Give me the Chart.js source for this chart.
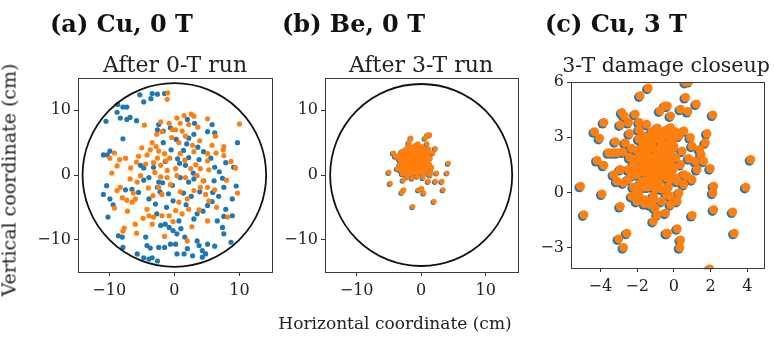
<!DOCTYPE html>
<html><head><meta charset="utf-8">
<script src="https://cdn.jsdelivr.net/npm/chart.js@4.4.0/dist/chart.umd.min.js"></script>
<style>
body{margin:0;width:774px;height:337px;overflow:hidden;background:#fff;font-family:"DejaVu Serif",serif;}
canvas{position:absolute;left:0;top:0;}
.t{position:absolute;white-space:nowrap;color:#111;line-height:1;}
.h{font-weight:bold;font-size:24px;top:12px;}
.s{font-size:22px;top:54px;transform:translateX(-50%);color:#222;}
.ax{font-size:17px;color:#222;}
</style></head><body>
<canvas id="ca" width="774" height="337"></canvas>
<canvas id="cb" width="774" height="337"></canvas>
<canvas id="cc" width="774" height="337"></canvas>
<div class="t h" style="left:50px">(a) Cu, 0 T</div>
<div class="t h" style="left:282px">(b) Be, 0 T</div>
<div class="t h" style="left:545px">(c) Cu, 3 T</div>
<div class="t s" style="left:175px">After 0-T run</div>
<div class="t s" style="left:421px">After 3-T run</div>
<div class="t s" style="left:666px;font-size:20.5px;top:55px">3-T damage closeup</div>
<div class="t ax" style="left:395px;top:315px;transform:translateX(-50%)">Horizontal coordinate (cm)</div>
<div class="t ax" style="left:9px;top:180px;font-size:19px;transform:translate(-50%,-50%) rotate(-90deg)">Vertical coordinate (cm)</div>
<script>
// ---------------- DATA ----------------
const titles = ["(a) Cu, 0 T", "(b) Be, 0 T", "(c) Cu, 3 T"];
const detectorRadius = 14.1;
const ticksWide = [-10, 0, 10];
const ticksCloseX = [-4, -2, 0, 2, 4];
const ticksCloseY = [-3, 0, 3, 6];

// Panel (a): damage spots after 0-T run, two series
const cu0Blue = [
[-5.3,12.4],[-4.7,11.3],[-3.6,11.8],[-3.4,12.6],[-2.6,12.5],[-1.5,12.6],[-8.7,10.9],[-7.9,10.5],[-7.3,10.5],[-8.8,9.7],
[-8.3,8.8],[-7.3,8.6],[-6.8,8.9],[-5.8,8.4],[-10.5,8.3],[-7.9,5.6],[-2.4,7.8],[-2.6,7.0],[-1.7,6.8],[-0.6,7.3],
[-10.9,3.1],[-10.3,3.1],[-9.9,3.7],[-5.2,1.5],[-4.7,1.1],[-3.2,1.2],[-1.7,5.0],[-1.4,2.1],
[2.0,8.6],[3.1,8.0],[5.8,7.8],[5.1,6.7],[6.2,6.5],[9.7,5.0],[3.0,6.3],[2.2,5.7],[1.9,4.8],[3.6,4.3],[1.4,3.8],[0.3,5.5],
[4.5,3.6],[5.6,2.6],[3.8,2.4],[2.2,2.7],[0.5,2.5],[1.7,1.5],[6.2,1.2],[7.9,1.9],[6.9,0.5],[9.1,1.2],
[-10.4,-1.65],[-10.9,-3.0],[-9.9,-3.7],[-9.4,-4.6],[-10.2,-6.5],[-7.5,-2.3],[-6.5,-2.2],[-5.5,-2.7],[-3.9,-3.7],[-2.9,-4.5],
[-2.6,-1.9],[-2.4,-1.1],[-4.7,-0.8],[-3.9,-0.4],[-1.4,-7.6],[-0.8,-8.1],[-2.1,-7.8],[-8.6,-9.4],[-8.0,-9.6],[-7.9,-11.2],
[-4.4,-9.6],[-4.2,-10.9],[-3.7,-11.3],[-5.7,-12.2],[-4.7,-12.8],[-3.9,-13.0],[-3.4,-12.8],[-2.6,-13.3],[-2.4,-11.2],[-1.5,-11.2],[-0.6,-10.7],
[0.9,-0.4],[2.2,-1.1],[3.0,-0.6],[4.5,-0.9],[6.1,-0.9],[7.4,-0.5],[7.6,-1.9],[9.5,-1.7],[8.9,-3.7],[5.8,-4.1],
[5.1,-4.7],[7.9,-5.3],[8.9,-6.3],[7.6,-6.4],[6.6,-7.1],[7.4,-8.1],[7.6,-9.1],[8.7,-10.4],[3.5,-6.0],[3.0,-6.8],
[0.7,-7.1],[1.0,-8.3],[0.4,-9.1],[3.5,-10.2],[3.8,-10.9],[4.3,-11.7],[5.1,-10.7],[4.8,-12.2],[2.8,-12.5],[1.5,-12.2],
[0.4,-12.2],[0.2,-10.7],[2.0,-11.4],[4.3,-12.7],
[-2.2,-2.6],[-1.8,-1.2],[-0.9,-2.9],[-0.3,-1.6],[1.4,-2.8],[2.6,-3.3],[3.9,-2.6],[4.4,-5.6],[1.8,-4.6],[-0.2,-4.0],
[-1.2,-5.0],[-2.7,-6.0],[5.9,-2.7],[6.8,-3.3],[-0.5,3.9],[0.8,1.8],[2.9,0.3],[-0.2,-8.6],[1.6,-9.6],[6.2,-11.0]
];
const cu0Orange = [
[-1.0,12.7],[-1.1,11.7],[-4.6,7.7],[-2.1,8.2],[-0.8,8.0],[-0.3,7.0],[-1.9,6.7],[-2.7,6.3],[-3.4,5.0],[-2.8,4.4],
[-3.7,3.9],[-2.4,3.7],[-1.5,3.3],[-2.6,2.6],[-3.2,1.9],[-2.1,1.5],[-1.1,0.7],[-9.9,2.6],[-9.2,3.4],[-8.4,2.4],
[-7.5,2.6],[-8.8,1.4],[-5.5,2.9],[-5.8,2.0],[-6.7,1.1],[-4.2,3.1],[-4.4,1.7],[-0.7,2.6],
[0.4,8.8],[1.5,9.2],[2.6,9.4],[3.0,9.1],[2.2,7.8],[0.9,8.0],[5.1,8.7],[10.0,7.9],[1.2,6.8],[0.2,7.0],
[1.7,6.0],[3.9,5.3],[0.7,5.0],[2.8,4.6],[5.8,4.6],[7.6,4.4],[7.5,3.9],[5.1,3.3],[6.4,3.4],[3.0,3.6],
[0.9,3.3],[7.6,3.0],[5.1,2.2],[3.3,1.6],[2.5,1.0],[0.2,1.0],[4.0,1.0],[8.7,2.1],[9.4,1.1],[5.3,0.8],
[-8.8,-2.4],[-8.0,-3.5],[-9.2,-5.1],[-7.3,-3.9],[-6.5,-4.2],[-6.0,-3.7],[-8.3,-1.9],[-5.7,-1.1],[-6.8,-0.6],[-5.2,-0.1],
[-4.2,-5.3],[-3.9,-6.3],[-3.2,-6.5],[-1.9,-6.3],[-0.8,-6.3],[-6.0,-7.6],[-5.8,-9.0],[-7.7,-8.2],[-7.9,-8.7],[-1.5,-9.5],
[-3.4,-7.6],[-2.4,-1.9],[-1.9,-3.0],[-1.1,-0.4],[-2.1,-0.3],
[0.4,-0.1],[1.7,-0.4],[3.5,-0.1],[4.0,-1.9],[5.1,-1.9],[3.0,-2.4],[4.8,-3.0],[5.3,-4.0],[6.5,-5.0],[9.7,-2.8],
[2.0,-3.7],[0.7,-4.2],[2.2,-5.3],[3.8,-5.4],[5.1,-7.1],[2.0,-10.2],[8.2,-6.5],[0.2,-5.5],[1.2,-6.0],
[-3.0,0.4],[-4.0,-2.0],[-3.3,-3.2],[-0.6,-1.5],[0.9,-2.6],[-1.3,2.2],[1.6,2.3],[4.4,-0.9],[6.2,-2.3],[-5.0,4.2],
[-6.3,-2.8],[-4.8,-6.7],[-0.4,5.8],[3.6,7.4],[6.3,6.0],[-7.2,-5.6],[2.7,-8.0],[-0.2,-7.2],[8.0,-0.8],[-9.6,0.3]
];

// Panel (b): Be, compact cluster (both series nearly coincide)
const be0Points = [
[1.0,6.2],[1.3,6.2],[0.6,5.7],[-1.6,5.7],[-1.9,5.0],[2.2,4.1],[-4.3,3.4],[-4.0,2.9],[4.2,1.8],[-5.0,0.4],
[-4.8,-1.3],[4.0,0.3],[3.2,-1.0],[2.4,0.3],[2.2,-1.0],[1.1,-1.0],[0.1,-2.1],[-0.4,-2.3],[0.4,-2.8],[-2.7,-2.3],
[-3.0,-2.7],[3.4,-2.3],[2.0,-4.1],[-1.3,-4.9],[-2.8,-0.8],[1.4,0.0],
[-3.5,3.0],[-3.2,2.2],[-3.0,3.6],[-2.7,1.5],[-2.5,2.8],[-2.3,4.0],[-2.0,0.8],[-2.0,2.2],[-1.8,3.3],[-1.6,1.2],
[-1.5,4.3],[-1.4,2.6],[-1.2,0.5],[-1.1,1.8],[-1.0,3.2],[-0.8,2.4],[-0.7,1.0],[-0.6,3.8],[-0.4,1.6],[-0.3,2.8],
[-0.1,0.4],[0.0,2.0],[0.2,3.4],[0.3,1.2],[0.5,2.5],[0.7,0.6],[0.8,3.0],[1.0,1.8],[1.2,4.0],[1.4,2.6],
[1.6,1.2],[1.8,3.4],[-3.7,1.0],[-2.9,0.2],[-2.2,-0.3],[-1.4,-0.5],[-0.6,-0.2],[0.3,-0.4],[1.2,0.2],[-2.6,3.8],
[-1.9,4.6],[-0.9,4.5],[0.1,4.4],[0.9,4.8],[-3.3,1.6],[-2.4,1.0],[-1.7,2.0],[-0.9,0.4],[-0.2,1.0],[0.6,1.6],
[-1.3,3.8],[-0.5,4.8],[1.5,0.5],[-3.0,0.6],[-2.0,3.0],[-1.0,2.5],[0.0,3.0],[0.4,4.0],[-1.6,0.2],[-0.5,2.2],
[-2.8,2.5],[-2.2,1.8],[-1.8,1.5],[-1.3,1.2],[-0.8,1.4],[-0.3,2.0],[0.2,2.4],[0.6,3.5],[-0.4,3.3],[-1.2,2.9],
[-2.4,3.3],[-3.1,1.2],[-1.5,0.8],[-0.6,0.8],[0.9,1.1],[1.1,2.3],[-0.9,3.6],[-1.9,2.6],[-2.6,0.5],[0.3,0.2],
[-2.9,2.9],[-2.6,2.1],[-2.3,1.4],[-2.1,2.6],[-1.9,0.4],[-1.7,3.7],[-1.6,2.4],[-1.4,1.6],[-1.3,3.1],[-1.1,0.9],
[-1.0,2.0],[-0.9,1.0],[-0.8,3.0],[-0.7,1.8],[-0.6,2.7],[-0.5,1.3],[-0.4,4.0],[-0.3,0.6],[-0.2,2.5],[-0.1,3.7],
[0.0,1.5],[0.1,2.8],[0.2,0.9],[0.4,1.9],[0.5,3.1],[0.7,2.2],[0.8,1.4],[1.0,2.8],[1.1,3.5],[1.3,1.6],
[-3.4,2.5],[-3.2,0.8],[-2.7,3.4],[-2.5,1.8],[-2.4,0.2],[-2.1,1.1],[-1.8,2.9],[-1.2,2.2],[-0.5,0.2],[0.3,3.7]
];

// Panel (c): Cu 3-T damage closeup (both series nearly coincide)
const cu3Points = [
[-1.4,5.67],[-1.84,5.25],[-2.83,4.34],[-2.7,4.16],[-2.11,4.25],[-3.82,3.80],[-4.32,3.30],[-4.04,2.94],[-3.19,2.76],[-2.65,2.7],
[-2.47,3.8],[-2.92,3.67],[-2.42,3.2],[-1.88,3.8],[-1.48,3.7],[-4.18,1.74],[-3.82,1.48],[-3.55,2.16],[-3.32,2.16],[-3.1,2.16],
[-2.78,2.2],[-5.08,0.34],[-3.91,-0.08],[-2.92,-0.76],[-4.9,-1.21],[-2.56,-2.21],[-3.01,-2.52],[-2.74,-2.99],[-3.28,0.97],[-3.1,0.61],
[-2.74,0.52],[-2.92,1.25],[-2.47,1.25],[-2.2,1.52],[-2.02,0.97],[-1.66,0.61],[-2.02,0.06],[-2.29,-0.21],[-2.02,-0.48],[-1.57,-0.39],
[-1.12,-0.21],[-1.3,-0.66],[-1.03,-0.85],[-0.9,-1.21],[-1.12,-1.57],[-0.4,-2.21],[-1.66,2.98],[-1.3,2.7],[-0.94,3.16],[-0.76,4.43],
[-0.49,4.7],[-1.48,2.25],[-1.03,1.88],[-0.76,1.52],[-0.58,0.97],[-1.21,0.61],[-0.76,0.25],[-0.4,-0.12],[-0.67,-0.48],[-1.75,1.8],[-1.39,1.43],
[0.63,5.98],[0.81,6.03],[0.63,5.16],[1.22,4.8],[0.36,4.52],[0.76,4.4],[2.12,4.21],[-0.36,4.7],[-0.18,4.16],[1.8,3.2],
[1.71,2.7],[4.18,1.79],[3.92,0.28],[2.16,0.34],[2.12,-0.03],[2.16,-0.94],[3.2,-1.06],[3.28,-2.21],[0.99,-1.25],[-0.36,-2.21],
[0.18,-1.97],[0.36,-2.58],[0.32,-2.99],[1.4,2.34],[1.48,2.07],[1.62,1.7],[1.98,1.3],[1.26,1.25],[0.99,0.7],[0.72,0.88],
[0.54,0.43],[0.18,0.61],[0.27,-0.03],[0.18,-0.48],[-0.18,-0.66],[-0.45,-1.12],[0.9,2.98],[0.99,2.52],[0.81,1.84],[0.36,1.52],
[0.0,1.34],[-0.27,3.16],[0.0,2.98],[-0.09,2.43],[-0.27,1.88],[0.45,2.25],[1.17,1.7],[0.54,3.34],[0.27,3.07],[-0.18,3.52],
[-0.36,0.79],[0.54,0.97],[1.95,-4.15],
[-1.9,2.9],[-1.7,2.5],[-1.5,2.0],[-1.3,1.5],[-1.1,1.0],[-0.9,2.2],[-0.7,2.8],[-0.5,3.1],[-0.3,2.6],[-0.1,2.0],
[-0.3,1.4],[-0.5,0.9],[-0.8,0.5],[-1.0,0.2],[-1.4,0.3],[-1.8,0.5],[-2.1,1.3],[-1.9,1.9],[-1.6,1.1],[-1.2,2.6],
[-1.0,3.0],[-0.8,1.7],[-0.6,2.0],[-0.4,2.3],[-0.2,3.0],[0.0,2.5],[-0.1,1.2],[-0.6,1.2],[-1.4,2.4],[-1.7,3.1],
[-2.3,2.4],[-2.4,1.9],[-2.5,0.7],[-2.2,0.3],[-1.3,0.7],[-0.9,1.3],[-0.7,0.2],[-1.1,-0.4],[-1.6,-0.6],[-1.9,-0.1],
[-0.3,0.3],[0.1,0.8],[-0.2,-0.2],[-1.2,3.3],[-0.9,3.5],[-0.4,3.4],[-1.5,1.6],[-2.0,2.3],[-1.2,1.9],[-0.7,2.5],
[-1.8,2.2],[-1.6,2.8],[-1.4,3.0],[-1.3,1.0],[-1.1,1.6],[-1.0,2.3],[-0.9,0.7],[-0.8,2.9],[-0.6,1.6],[-0.5,2.5],
[-0.4,1.0],[-0.2,1.7],[-0.1,2.7],[0.1,1.9],[0.1,3.3],[-1.6,0.3],[-1.9,1.1],[-2.1,1.8],[-1.5,0.6],[-0.9,1.8],
[-1.2,1.3],[-0.7,1.0],[-0.3,2.0],[-1.7,1.5],[-1.5,2.6],[-0.6,3.2],[-0.2,0.7],[-1.1,0.5],[-2.3,0.9],[-1.9,3.4]
];

// ---------------- DRAWING ----------------
const BLUE = '#1f77b4', ORANGE = '#ff7f0e';
const W = 774, H = 337, YAXW = 42, XAXH = 32;
const toXY = arr => arr.map(p => ({x: p[0], y: p[1]}));
const fmt = v => (v < 0 ? '\u2212' + Math.abs(v) : String(v));

const framePlugin = {
  id: 'frame',
  afterDatasetsDraw(chart) {
    const a = chart.chartArea, ctx = chart.ctx;
    ctx.save();
    ctx.strokeStyle = '#3a3a3a'; ctx.lineWidth = 1;
    ctx.strokeRect(Math.round(a.left) + 0.5, Math.round(a.top) + 0.5, Math.round(a.right - a.left), Math.round(a.bottom - a.top));
    const o = chart.options.plugins.frame || {};
    if (o.circle) {
      const xs = chart.scales.x, ys = chart.scales.y;
      const cx = xs.getPixelForValue(0), cy = ys.getPixelForValue(0);
      const r = xs.getPixelForValue(o.circle) - cx;
      ctx.beginPath(); ctx.arc(cx, cy, r, 0, Math.PI * 2);
      ctx.strokeStyle = '#111'; ctx.lineWidth = 1.8; ctx.stroke();
    }
    ctx.restore();
  }
};
// draws the underlying (blue) series with a small pixel offset so it peeks out
const shiftPlugin = {
  id: 'shift',
  beforeDatasetDraw(chart, args) {
    const o = chart.options.plugins.shift;
    if (o && o.dx !== undefined && args.index === 1) { chart.ctx.save(); chart.ctx.translate(o.dx, o.dy); }
  },
  afterDatasetDraw(chart, args) {
    const o = chart.options.plugins.shift;
    if (o && o.dx !== undefined && args.index === 1) chart.ctx.restore();
  }
};

function axis(min, max, ticks, isX) {
  return {
    type: 'linear', min, max,
    afterBuildTicks: s => { s.ticks = ticks.map(v => ({value: v})); },
    afterFit: s => { if (isX) s.height = XAXH; else s.width = YAXW; },
    ticks: {font: {family: 'DejaVu Serif', size: 16}, color: '#222', padding: isX ? 5 : 3, autoSkip: false, maxRotation: 0, callback: v => fmt(v)},
    grid: {drawOnChartArea: false, drawTicks: true, tickLength: 4, color: '#333'},
    border: {display: true, color: '#3a3a3a', width: 1}
  };
}

function makeChart(id, area, xr, yr, xt, yt, datasets, extra) {
  return new Chart(document.getElementById(id), {
    type: 'scatter',
    data: {datasets},
    options: {
      responsive: false, animation: false, events: [],
      layout: {padding: {left: area.l - YAXW, top: area.t, right: W - area.r, bottom: H - area.b - XAXH}},
      scales: {x: axis(xr[0], xr[1], xt, true), y: axis(yr[0], yr[1], yt, false)},
      plugins: Object.assign({legend: {display: false}, tooltip: {enabled: false}}, extra)
    },
    plugins: [framePlugin, shiftPlugin]
  });
}

// dataset index 0 is drawn on top in Chart.js, so orange comes first
function ds(label, data, color, r) {
  return {label, data: toXY(data), backgroundColor: color, borderWidth: 0, pointRadius: r, clip: 0};
}

makeChart('ca', {l: 78, t: 78, r: 272, b: 272}, [-14.8, 15.0], [-15, 15], ticksWide, ticksWide,
  [ds('orange', cu0Orange, ORANGE, 2.6), ds('blue', cu0Blue, BLUE, 2.6)], {frame: {circle: detectorRadius}});
makeChart('cb', {l: 325, t: 78, r: 518, b: 272}, [-14.9, 15.0], [-15, 15], ticksWide, ticksWide,
  [ds('orange', be0Points, ORANGE, 2.6), ds('blue', be0Points, BLUE, 2.7)], {frame: {circle: detectorRadius}, shift: {dx: -0.8, dy: 0.8}});
makeChart('cc', {l: 571, t: 82, r: 764, b: 268}, [-5.6, 4.9], [-4.1, 6], ticksCloseX, ticksCloseY,
  [ds('orange', cu3Points, ORANGE, 4.5), ds('blue', cu3Points, BLUE, 4.8)], {frame: {}, shift: {dx: -1.3, dy: 1.3}});
</script>
</body></html>
